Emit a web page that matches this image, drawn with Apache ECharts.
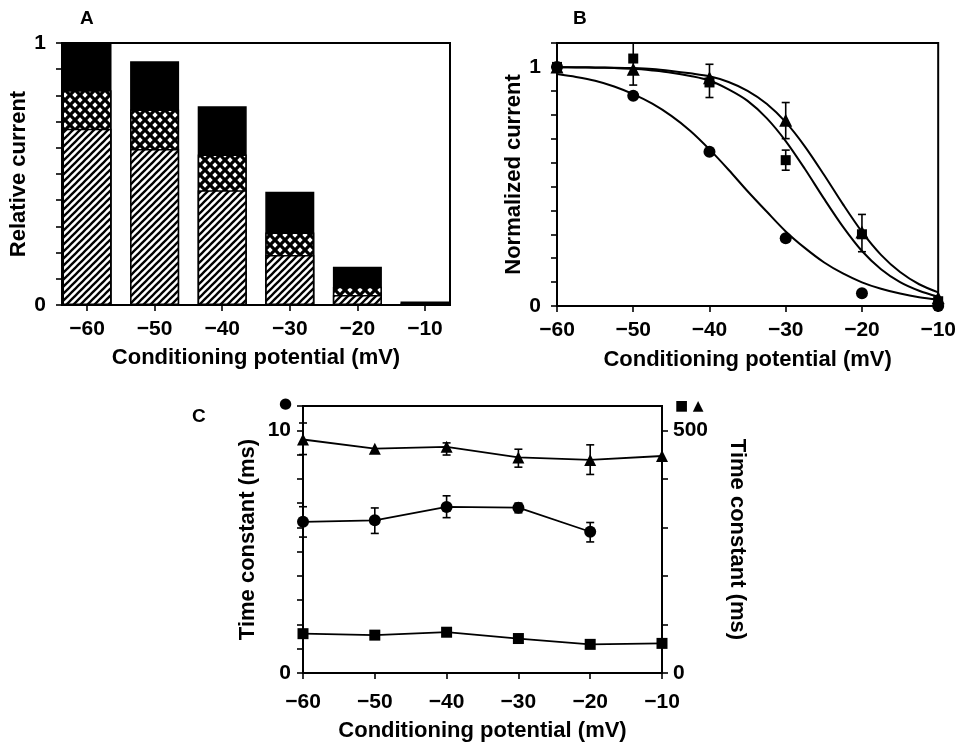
<!DOCTYPE html>
<html><head><meta charset="utf-8">
<script src="https://cdn.jsdelivr.net/npm/echarts@6/dist/echarts.min.js"></script>
<style>html,body{margin:0;padding:0;background:#fff}#c{width:959px;height:745px}</style>
</head><body><div id="c"></div>
<script>
// ---------- DATA ----------
const potentials = [-60, -50, -40, -30, -20, -10];

// Panel A: stacked relative current components
const aHatched = [0.673, 0.595, 0.438, 0.191, 0.038, 0.004];
const aCrossed = [0.147, 0.151, 0.136, 0.086, 0.032, 0.003];
const aSolid   = [0.180, 0.184, 0.185, 0.155, 0.076, 0.006];

// Panel B: normalized current points
const bCircle   = [1.0, 0.879, 0.645, 0.283, 0.053, 0.0];
const bSquare   = [1.0, 1.035, 0.935, 0.610, 0.300, 0.020];
const bTriangle = [1.0, 0.990, 0.955, 0.777, 0.310, 0.035];
// error bars [x, low, high]
const bErrors = [[-50, 0.924, 1.10], [-40, 0.872, 1.011], [-30, 0.700, 0.851], [-30, 0.568, 0.652], [-20, 0.227, 0.383]];
// fitted curves
const fitX        = [-60, -57.5, -55, -52.5, -50, -47.5, -45, -42.5, -40, -37.5, -35, -32.5, -30, -27.5, -25, -22.5, -20, -17.5, -15, -12.5, -10];
const fitCircle   = [0.970, 0.958, 0.942, 0.918, 0.886, 0.846, 0.795, 0.732, 0.655, 0.570, 0.480, 0.395, 0.312, 0.243, 0.183, 0.136, 0.099, 0.072, 0.052, 0.037, 0.027];
const fitSquare   = [0.999, 0.998, 0.997, 0.995, 0.992, 0.985, 0.976, 0.962, 0.943, 0.906, 0.858, 0.786, 0.690, 0.574, 0.450, 0.332, 0.230, 0.154, 0.100, 0.064, 0.039];
const fitTriangle = [0.999, 0.999, 0.998, 0.997, 0.995, 0.991, 0.983, 0.973, 0.961, 0.937, 0.900, 0.846, 0.769, 0.668, 0.550, 0.426, 0.310, 0.214, 0.142, 0.091, 0.057];

// Panel C: time constants
const cCircle   = [6.23, 6.29, 6.84, 6.81, 5.82];          // ms, left axis (-60..-20)
const cSquare   = [81, 78, 84, 71, 59, 61];                // ms, right axis
const cTriangle = [481, 462, 466, 444, 439, 447];          // ms, right axis
const cCircleErr   = [[-60, 5.6, 6.85], [-50, 5.75, 6.8], [-40, 6.4, 7.3], [-30, 6.6, 7.0], [-20, 5.4, 6.2]];
const cTriangleErr = [[-60, 450, 515], [-40, 449, 474], [-30, 424, 461], [-20, 409, 470]];

// ---------- STYLE HELPERS ----------
const FONT = "'Liberation Sans', Arial, sans-serif";
const minus = v => (v < 0 ? '\u2212' + Math.abs(v) : String(v));

function hatchPattern() {
  const s = 7, c = document.createElement('canvas');
  c.width = s; c.height = s;
  const g = c.getContext('2d');
  g.fillStyle = '#fff'; g.fillRect(0, 0, s, s);
  g.strokeStyle = '#000'; g.lineWidth = 2.3;
  [[0, s, s, 0], [-1, 1, 1, -1], [s - 1, s + 1, s + 1, s - 1]].forEach(l => {
    g.beginPath(); g.moveTo(l[0], l[1]); g.lineTo(l[2], l[3]); g.stroke();
  });
  return c;
}
function crossPattern() {
  const s = 10, c = document.createElement('canvas');
  c.width = s; c.height = s;
  const g = c.getContext('2d');
  g.fillStyle = '#000'; g.fillRect(0, 0, s, s);
  g.fillStyle = '#fff';
  const r = 2.7;
  [[0, 0], [s, 0], [0, s], [s, s], [s / 2, s / 2]].forEach(p => {
    g.beginPath();
    g.moveTo(p[0], p[1] - r); g.lineTo(p[0] + r, p[1]); g.lineTo(p[0], p[1] + r); g.lineTo(p[0] - r, p[1]);
    g.closePath(); g.fill();
  });
  return c;
}

const labelStyle = { fontFamily: FONT, fontWeight: 'bold', fontSize: 21, color: '#000' };
const nameStyle = { fontFamily: FONT, fontWeight: 'bold', fontSize: 22, color: '#000' };
const axisLine = { show: true, lineStyle: { color: '#000', width: 2 } };
const tick = { show: true, inside: false, length: 6, lineStyle: { color: '#000', width: 1.6 } };

function errorSeries(data, xAxisIndex, yAxisIndex, cap) {
  return {
    type: 'custom', xAxisIndex, yAxisIndex, data, clip: false, z: 5,
    encode: { x: 0, y: [1, 2] },
    renderItem: function (params, api) {
      const x = api.value(0);
      const p1 = api.coord([x, api.value(1)]);
      const p2 = api.coord([x, api.value(2)]);
      const w = cap;
      const st = { stroke: '#000', lineWidth: 1.6 };
      return {
        type: 'group', children: [
          { type: 'line', shape: { x1: p1[0], y1: p1[1], x2: p2[0], y2: p2[1] }, style: st },
          { type: 'line', shape: { x1: p1[0] - w, y1: p1[1], x2: p1[0] + w, y2: p1[1] }, style: st },
          { type: 'line', shape: { x1: p2[0] - w, y1: p2[1], x2: p2[0] + w, y2: p2[1] }, style: st }
        ]
      };
    }
  };
}
const pair = (xs, ys) => ys.map((y, i) => [xs[i], y]);
// cumulative tops of the stacked segments (drawn as overlapping bars)
const topHatched = aHatched.slice();
const topCrossed = aHatched.map((v, i) => v + aCrossed[i]);
const topSolid   = aHatched.map((v, i) => v + aCrossed[i] + aSolid[i]);

// ---------- CHART ----------
const chart = echarts.init(document.getElementById('c'), null, { renderer: 'canvas' });
const hatch = { image: hatchPattern(), repeat: 'repeat' };
const cross = { image: crossPattern(), repeat: 'repeat' };
const barBorder = { borderColor: '#000', borderWidth: 1.5 };
const dot = { color: '#000', opacity: 1 };

const option = {
  animation: false,
  backgroundColor: '#fff',
  textStyle: { fontFamily: FONT },
  grid: [
    { left: 62, top: 43, width: 388, height: 262, show: true, borderColor: '#000', borderWidth: 2, backgroundColor: 'transparent' },
    { left: 557, top: 43, width: 386, height: 263, show: true, borderColor: '#000', borderWidth: 2, backgroundColor: 'transparent' },
    { left: 303, top: 406, width: 359, height: 267, show: true, borderColor: '#000', borderWidth: 2, backgroundColor: 'transparent' }
  ],
  xAxis: [
    { gridIndex: 0, type: 'value', min: -63.7, max: -6.3, axisLine, axisTick: Object.assign({ customValues: potentials }, tick),
      axisLabel: Object.assign({ customValues: potentials, formatter: minus, margin: 14 }, labelStyle),
      splitLine: { show: false }, name: 'Conditioning potential (mV)', nameLocation: 'middle', nameGap: 42, nameTextStyle: nameStyle },
    { gridIndex: 1, type: 'value', min: -60, max: -10, interval: 10, axisLine, axisTick: tick,
      axisLabel: Object.assign({ formatter: minus, margin: 14 }, labelStyle),
      splitLine: { show: false }, name: 'Conditioning potential (mV)', nameLocation: 'middle', nameGap: 43, nameTextStyle: nameStyle },
    { gridIndex: 2, type: 'value', min: -60, max: -10, interval: 10, axisLine, axisTick: tick,
      axisLabel: Object.assign({ formatter: minus, margin: 19 }, labelStyle),
      splitLine: { show: false }, name: 'Conditioning potential (mV)', nameLocation: 'middle', nameGap: 47, nameTextStyle: nameStyle }
  ],
  yAxis: [
    { gridIndex: 0, type: 'value', min: 0, max: 1, interval: 0.1, axisLine, axisTick: tick,
      axisLabel: Object.assign({ margin: 16, formatter: v => (Math.abs(v) < 1e-6 ? '0' : Math.abs(v - 1) < 1e-6 ? '1' : '') }, labelStyle),
      splitLine: { show: false }, name: 'Relative current', nameLocation: 'middle', nameGap: 23, nameTextStyle: nameStyle },
    { gridIndex: 1, type: 'value', min: 0, max: 1.1, interval: 0.1, axisLine, axisTick: tick,
      axisLabel: Object.assign({ margin: 16, formatter: v => (Math.abs(v) < 1e-6 ? '0' : Math.abs(v - 1) < 1e-6 ? '1' : '') }, labelStyle),
      splitLine: { show: false }, name: 'Normalized current', nameLocation: 'middle', nameGap: 29, nameTextStyle: nameStyle },
    { gridIndex: 2, type: 'value', min: 0, max: 11, interval: 1, axisLine, axisTick: tick,
      axisLabel: Object.assign({ margin: 12, formatter: v => (v === 0 ? '0' : v === 10 ? '10' : '') }, labelStyle),
      splitLine: { show: false }, name: 'Time constant (ms)', nameLocation: 'middle', nameGap: 44, nameTextStyle: nameStyle },
    { gridIndex: 2, type: 'value', position: 'right', min: 0, max: 550, interval: 100, axisLine,
      axisTick: Object.assign({ customValues: [0, 100, 200, 300, 400, 500] }, tick),
      axisLabel: Object.assign({ margin: 11, customValues: [0, 500], formatter: v => String(v) }, labelStyle),
      splitLine: { show: false }, name: 'Time constant (ms)', nameLocation: 'middle', nameGap: 64, nameRotate: -90, nameTextStyle: nameStyle }
  ],
  series: [
    // Panel A (segments drawn as overlapping bars, tallest first)
    { type: 'bar', xAxisIndex: 0, yAxisIndex: 0, barWidth: 49, barGap: '-100%', data: pair(potentials, topSolid), itemStyle: Object.assign({ color: '#000' }, barBorder) },
    { type: 'bar', xAxisIndex: 0, yAxisIndex: 0, barWidth: 49, barGap: '-100%', data: pair(potentials, topCrossed), itemStyle: Object.assign({ color: cross }, barBorder) },
    { type: 'bar', xAxisIndex: 0, yAxisIndex: 0, barWidth: 49, barGap: '-100%', data: pair(potentials, topHatched), itemStyle: Object.assign({ color: hatch }, barBorder) },
    // Panel B fitted curves
    { type: 'line', xAxisIndex: 1, yAxisIndex: 1, data: pair(fitX, fitCircle), smooth: 0.3, showSymbol: false, lineStyle: { color: '#000', width: 2 } },
    { type: 'line', xAxisIndex: 1, yAxisIndex: 1, data: pair(fitX, fitSquare), smooth: 0.3, showSymbol: false, lineStyle: { color: '#000', width: 2 } },
    { type: 'line', xAxisIndex: 1, yAxisIndex: 1, data: pair(fitX, fitTriangle), smooth: 0.3, showSymbol: false, lineStyle: { color: '#000', width: 2 } },
    errorSeries(bErrors, 1, 1, 4),
    { type: 'scatter', xAxisIndex: 1, yAxisIndex: 1, data: pair(potentials, bCircle), symbol: 'circle', symbolSize: 12, clip: false, itemStyle: dot, z: 6 },
    { type: 'scatter', xAxisIndex: 1, yAxisIndex: 1, data: pair(potentials, bSquare), symbol: 'rect', symbolSize: 10, clip: false, itemStyle: dot, z: 6 },
    { type: 'scatter', xAxisIndex: 1, yAxisIndex: 1, data: pair(potentials, bTriangle), symbol: 'triangle', symbolSize: 13, clip: false, itemStyle: dot, z: 6 },
    // Panel C
    errorSeries(cCircleErr, 2, 2, 4),
    errorSeries(cTriangleErr, 2, 3, 4),
    { type: 'line', xAxisIndex: 2, yAxisIndex: 2, data: pair(potentials, cCircle), symbol: 'circle', symbolSize: 12, clip: false,
      lineStyle: { color: '#000', width: 1.8 }, itemStyle: dot },
    { type: 'line', xAxisIndex: 2, yAxisIndex: 3, data: pair(potentials, cSquare), symbol: 'rect', symbolSize: 11, clip: false,
      lineStyle: { color: '#000', width: 1.8 }, itemStyle: dot },
    { type: 'line', xAxisIndex: 2, yAxisIndex: 3, data: pair(potentials, cTriangle), symbol: 'triangle', symbolSize: 12, clip: false,
      lineStyle: { color: '#000', width: 1.8 }, itemStyle: dot }
  ],
  graphic: [
    { type: 'text', left: 80, top: 9, style: { text: 'A', font: "bold 19px " + FONT, fill: '#000' } },
    { type: 'text', left: 573, top: 9, style: { text: 'B', font: "bold 19px " + FONT, fill: '#000' } },
    { type: 'text', left: 192, top: 407, style: { text: 'C', font: "bold 19px " + FONT, fill: '#000' } },
    { type: 'text', left: 279, top: 397, style: { text: '\u25CF', font: "15px 'DejaVu Sans'", fill: '#000' } },
    { type: 'text', left: 675, top: 399, style: { text: '\u25A0 \u25B2', font: "14px 'DejaVu Sans'", fill: '#000' } }
  ]
};
chart.setOption(option);
</script>
</body></html>
